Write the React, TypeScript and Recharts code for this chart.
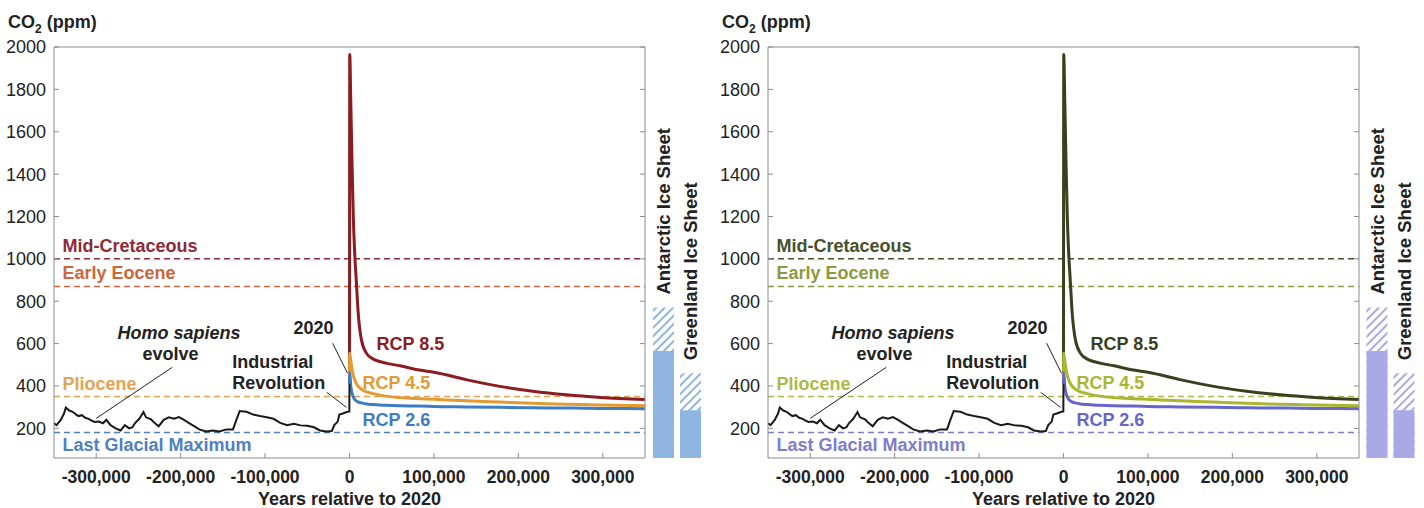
import React from "react";
import {
  Bar,
  BarChart,
  LabelList,
  Line,
  LineChart,
  ReferenceDot,
  ReferenceLine,
  XAxis,
  YAxis,
} from "recharts";

// ice-core record, years relative to 2020
const histYears = [
  -350000, -347000, -342000, -338000, -336000, -332000, -328000, -324000, -321000, -317000,
  -313000, -309000, -306000, -302000, -297000, -292000, -288000, -283000, -277000, -271000,
  -266000, -261000, -257000, -254000, -249000, -244000, -241000, -235000, -231000, -226000,
  -220000, -214000, -208000, -202000, -196000, -190000, -184000, -178000, -170000, -162000,
  -154000, -146000, -138000, -134000, -130000, -122000, -114000, -106000, -98000, -90000,
  -82000, -74000, -66000, -58000, -50000, -42000, -35000, -27000, -21000, -18000,
  -14000, -12000, -8000, -4000, -1000, -200, 0,
];
const histCo2 = [
  224, 215, 240, 271, 298, 284, 278, 266, 258, 262,
  250, 245, 238, 230, 232, 224, 240, 215, 200, 190,
  215, 200, 205, 225, 245, 277, 252, 242, 226, 210,
  240, 252, 245, 253, 240, 225, 210, 195, 185, 190,
  185, 195, 195, 240, 282, 278, 265, 258, 252, 245,
  226, 215, 222, 214, 212, 205, 190, 185, 187, 215,
  232, 265, 270, 276, 280, 280, 410,
];

// emission scenarios
const rcpYears = [
  0, 300, 1500, 3000, 4500, 6000, 8000, 10000, 14000, 20000, 27000,
  43000, 60000, 83000, 100000, 138000, 178000, 217000, 257000, 297000, 350000,
];
const rcp85 = [
  410, 1965, 1750, 1450, 1200, 1040, 900, 760, 620, 555, 530,
  508, 495, 475, 465, 430, 398, 375, 358, 346, 336,
];
const rcp45 = [
  410, 554, 520, 480, 450, 430, 412, 400, 385, 372, 365,
  352, 345, 340, 337, 330, 324, 318, 314, 310, 307,
];
const rcp26 = [
  410, 462, 400, 365, 348, 338, 330, 325, 320, 315, 312,
  309, 307, 305, 303, 301, 299, 297, 296, 294, 293,
];

const xTicks = [-300000, -200000, -100000, 0, 100000, 200000, 300000];
const yTicks = [200, 400, 600, 800, 1000, 1200, 1400, 1600, 1800, 2000];

const analogNames = ["Mid-Cretaceous", "Early Eocene", "Pliocene", "Last Glacial Maximum"];
const analogCo2 = [1000, 870, 350, 180];

const iceNames = ["Antarctic Ice Sheet", "Greenland Ice Sheet"];
const iceLow = [565, 285];
const iceHigh = [770, 460];

const FONT = '"Liberation Sans", Arial, Helvetica, sans-serif';
const AXIS = "#8c8c8c";
const INK = "#222";

const warm = {
  analog: ["#8c2a38", "#cf653a", "#e2a352", "#4f80c2"],
  r85: "#8b1c22",
  r45: "#e39a30",
  r26: "#3d7cc4",
  bar: "#8fb6e0",
};
const olive = {
  analog: ["#474f2b", "#8e9a3e", "#adb84a", "#7d7dcc"],
  r85: "#38411d",
  r45: "#a9b62e",
  r26: "#6565cc",
  bar: "#a9a9e6",
};

const toPts = (xs: number[], ys: number[]) => xs.map((x, i) => ({ x, y: ys[i] }));

const BottomTick = (p: any) => (
  <g>
    <line x1={p.x} x2={p.x} y1={p.y} y2={p.y - 5} stroke={AXIS} />
    <text x={p.x} y={p.y + 25} textAnchor="middle" fontSize={17.5} fontWeight={700} fill={INK} fontFamily={FONT}>
      {Number(p.payload.value).toLocaleString("en-US")}
    </text>
  </g>
);
const TopTick = (p: any) => (
  <line x1={p.x} x2={p.x} y1={p.y} y2={p.y + 5} stroke={AXIS} />
);
const LeftTick = (p: any) => (
  <g>
    <line x1={p.x} x2={p.x + 5} y1={p.y} y2={p.y} stroke={AXIS} />
    <text x={p.x - 8} y={p.y} dy="0.36em" textAnchor="end" fontSize={18} fill={INK} fontFamily={FONT}>
      {p.payload.value}
    </text>
  </g>
);
const RightTick = (p: any) => (
  <line x1={p.x} x2={p.x - 5} y1={p.y} y2={p.y} stroke={AXIS} />
);

const note = (text: string, color: string, anchor: string, dy = 0, italic = false) => (p: any) => (
  <text
    x={p.cx}
    y={p.cy + dy}
    textAnchor={anchor}
    fontSize={18}
    fontWeight={700}
    fontStyle={italic ? "italic" : "normal"}
    fill={color}
    fontFamily={FONT}
  >
    {text}
  </text>
);

const IceLabel = (p: any) => {
  const cx = Number(p.x) + Number(p.width) / 2;
  const top = Number(p.y) - 13;
  return (
    <text
      transform={`translate(${cx},${top}) rotate(-90)`}
      textAnchor="start"
      dominantBaseline="central"
      fontSize={18.5}
      fontWeight={700}
      fill={INK}
      fontFamily={FONT}
    >
      {p.value}
    </text>
  );
};

function Panel({ pal, left, barLeft, barMargin, id }: any) {
  const hist = toPts(histYears, histCo2);
  const ice = iceNames.map((name, i) => ({ name, low: iceLow[i], high: iceHigh[i] }));
  return (
    <>
      <div style={{ position: "absolute", left, top: 0 }}>
        <LineChart width={700} height={508} margin={{ top: 46, right: 54, bottom: 0, left: 0 }}>
          <XAxis
            dataKey="x"
            type="number"
            domain={[-350000, 350000]}
            allowDataOverflow
            ticks={xTicks}
            height={50}
            tickSize={0}
            tickMargin={0}
            tickLine={false}
            tick={<BottomTick />}
            stroke={AXIS}
            label={{ value: "Years relative to 2020", position: "insideBottom", offset: 3, fill: INK, fontSize: 18, fontWeight: 700 }}
          />
          <XAxis
            xAxisId="t"
            orientation="top"
            type="number"
            domain={[-350000, 350000]}
            allowDataOverflow
            ticks={xTicks}
            height={1}
            tickSize={0}
            tickMargin={0}
            tickLine={false}
            tick={<TopTick />}
            stroke={AXIS}
          />
          <YAxis
            type="number"
            domain={[60, 2000]}
            allowDataOverflow
            ticks={yTicks}
            width={54}
            tickSize={0}
            tickMargin={0}
            tickLine={false}
            tick={<LeftTick />}
            stroke={AXIS}
          />
          <YAxis
            yAxisId="r"
            orientation="right"
            type="number"
            domain={[60, 2000]}
            allowDataOverflow
            ticks={yTicks}
            width={1}
            tickSize={0}
            tickMargin={0}
            tickLine={false}
            tick={<RightTick />}
            stroke={AXIS}
          />

          {analogCo2.map((v, i) => (
            <ReferenceLine key={analogNames[i]} y={v} stroke={pal.analog[i]} strokeWidth={1.5} strokeDasharray="6 4" />
          ))}
          {analogCo2.map((v, i) => (
            <ReferenceDot
              key={"n" + analogNames[i]}
              x={-340000}
              y={v}
              shape={note(analogNames[i], pal.analog[i], "start", i === 3 ? 18 : -7)}
            />
          ))}

          <Line data={toPts(rcpYears, rcp85)} dataKey="y" type="monotone" stroke={pal.r85} strokeWidth={3} dot={false} isAnimationActive={false} />
          <Line data={toPts(rcpYears, rcp45)} dataKey="y" type="monotone" stroke={pal.r45} strokeWidth={3} dot={false} isAnimationActive={false} />
          <Line data={toPts(rcpYears, rcp26)} dataKey="y" type="monotone" stroke={pal.r26} strokeWidth={3} dot={false} isAnimationActive={false} />
          <Line data={hist} dataKey="y" type="linear" stroke="#1a1a1a" strokeWidth={2} dot={false} isAnimationActive={false} />

          <ReferenceLine segment={[{ x: -210000, y: 488 }, { x: -300000, y: 247 }]} stroke={INK} strokeWidth={1} />
          <ReferenceLine segment={[{ x: -20000, y: 602 }, { x: -2400, y: 460 }]} stroke={INK} strokeWidth={1} />
          <ReferenceLine segment={[{ x: -27000, y: 370 }, { x: -3500, y: 299 }]} stroke={INK} strokeWidth={1} />

          <ReferenceDot x={-202000} y={620} shape={note("Homo sapiens", INK, "middle", 0, true)} />
          <ReferenceDot x={-212000} y={521} shape={note("evolve", INK, "middle")} />
          <ReferenceDot x={-42700} y={644} shape={note("2020", INK, "middle")} />
          <ReferenceDot x={-139000} y={483} shape={note("Industrial", INK, "start")} />
          <ReferenceDot x={-139000} y={384} shape={note("Revolution", INK, "start")} />
          <ReferenceDot x={32000} y={568} shape={note("RCP 8.5", pal.r85, "start")} />
          <ReferenceDot x={15400} y={384} shape={note("RCP 4.5", pal.r45, "start")} />
          <ReferenceDot x={15400} y={209} shape={note("RCP 2.6", pal.r26, "start")} />
        </LineChart>
      </div>
      <div style={{ position: "absolute", left: barLeft, top: 0 }}>
        <BarChart
          width={80}
          height={508}
          data={ice}
          margin={{ top: 47, bottom: 50, left: barMargin[0], right: barMargin[1] }}
          barSize={21}
          barGap={-21}
        >
          <defs>
            <pattern id={"hatch-" + id} patternUnits="userSpaceOnUse" width={6} height={6} patternTransform="rotate(45)">
              <rect width={6} height={6} fill="#fff" />
              <line x1={1} y1={0} x2={1} y2={6} stroke={pal.bar} strokeWidth={2} />
            </pattern>
          </defs>
          <XAxis dataKey="name" hide />
          <YAxis type="number" domain={[60, 2000]} allowDataOverflow hide />
          <Bar dataKey="high" fill={`url(#hatch-${id})`} isAnimationActive={false}>
            <LabelList dataKey="name" content={IceLabel} />
          </Bar>
          <Bar dataKey="low" fill={pal.bar} isAnimationActive={false} />
        </BarChart>
      </div>
    </>
  );
}

const Title = ({ x }: { x: number }) => (
  <text x={x} y={28} fontSize={18} fontWeight={700} fill={INK} fontFamily={FONT}>
    CO
    <tspan fontSize={12} dy={5}>2</tspan>
    <tspan dy={-5}> (ppm)</tspan>
  </text>
);

export default function App() {
  return (
    <div style={{ position: "absolute", left: 0, top: 0, width: 1424, height: 508, background: "#fff", fontFamily: FONT }}>
      <Panel pal={warm} left={0} barLeft={640} barMargin={[10, 16]} id="a" />
      <Panel pal={olive} left={714} barLeft={1354} barMargin={[9.5, 16.5]} id="b" />
      <svg width={1424} height={508} style={{ position: "absolute", left: 0, top: 0, pointerEvents: "none" }}>
        <Title x={8} />
        <Title x={722} />
      </svg>
    </div>
  );
}
